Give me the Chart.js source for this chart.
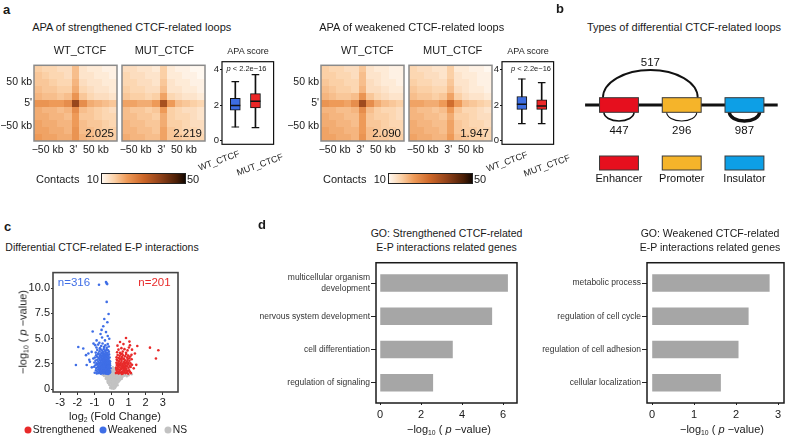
<!DOCTYPE html>
<html><head><meta charset="utf-8">
<script src="https://cdn.jsdelivr.net/npm/chart.js@4.4.1/dist/chart.umd.min.js"></script>
<style>
body{margin:0;width:789px;height:440px;background:#fff;position:relative;overflow:hidden;font-family:"Liberation Sans",Arial,sans-serif;color:#1a1a1a}
.t{position:absolute;white-space:nowrap;line-height:1}
canvas{position:absolute}
sub{font-size:0.62em;vertical-align:-0.3em;line-height:0}
.dot{position:absolute;width:7px;height:7px;border-radius:50%;transform:translate(-50%,-50%)}
.cbar{position:absolute;box-sizing:border-box;border:1px solid #222}
</style></head><body>
<script>
// ================= DATA =================
// panel a : aggregate peak analysis
const heatTicksY = ['50 kb', "5'", '\u221250 kb'];
const heatTicksX = ['\u221250 kb', "3'", '50 kb'];
const heatTickPosY = [2, 5, 8.3];
const heatTickPosX = [1.3, 4.7, 7.7];
const apaStrengthened = ['2.025', '2.219'];
const apaWeakened = ['2.090', '1.947'];
const contactStops = [[10,'#fff8f0'],[16,'#fbd0a6'],[22,'#ee9a58'],[30,'#cc6628'],[38,'#91421a'],[46,'#4a1e06'],[50,'#140802']];
const heatWTStrengthened = [
 [16,15,15,14,14,18,13,12,12,11,11],
 [17,16,15,15,14,18,13,13,12,12,11],
 [17,17,16,15,15,19,14,13,13,12,12],
 [18,17,17,16,16,20,15,14,13,13,12],
 [19,18,18,17,18,23,17,15,14,14,13],
 [23,23,22,22,24,37,24,20,19,18,17],
 [20,19,19,18,19,24,18,17,16,15,14],
 [20,20,19,19,18,22,17,17,16,15,15],
 [21,20,20,19,19,22,18,17,17,16,15],
 [21,21,20,20,19,23,18,18,17,16,16],
 [22,21,21,20,20,23,19,18,17,17,16]];
const heatMUTStrengthened = [
 [14,14,13,13,12,16,12,11,11,10,10],
 [15,14,14,13,13,16,12,12,11,11,10],
 [15,15,14,14,13,17,13,12,12,11,11],
 [16,15,15,14,14,18,13,13,12,12,11],
 [17,16,16,15,16,21,15,14,13,13,12],
 [21,21,20,20,22,35,22,18,17,16,15],
 [18,17,17,16,17,22,16,15,14,14,13],
 [18,18,17,17,16,20,16,15,15,14,13],
 [19,18,18,17,17,20,16,16,15,14,14],
 [19,19,18,18,17,21,17,16,15,15,14],
 [20,19,19,18,18,21,17,17,16,15,15]];
const heatWTWeakened = [
 [16,15,15,14,14,17,13,12,12,11,11],
 [16,16,15,15,14,18,13,13,12,11,11],
 [17,16,16,15,15,18,14,13,12,12,11],
 [18,17,16,16,15,19,14,14,13,12,12],
 [19,18,17,17,18,23,17,15,14,13,13],
 [23,22,22,21,24,36,24,20,18,17,16],
 [19,19,18,18,19,24,18,16,15,15,14],
 [20,19,19,18,18,22,17,16,16,15,14],
 [20,20,19,19,18,22,17,17,16,15,15],
 [21,20,20,19,19,22,18,17,16,16,15],
 [21,21,20,20,19,23,18,17,17,16,16]];
const heatMUTWeakened = [
 [15,14,14,13,13,16,12,12,11,11,10],
 [15,15,14,14,13,16,13,12,12,11,11],
 [16,15,15,14,14,17,13,13,12,11,11],
 [17,16,16,15,15,18,14,13,12,12,11],
 [18,17,17,16,17,21,16,14,13,13,12],
 [21,21,20,20,22,29,22,18,17,16,15],
 [19,18,18,17,18,22,17,15,15,14,13],
 [19,19,18,18,17,20,16,16,15,14,14],
 [20,19,19,18,18,21,17,16,15,15,14],
 [20,20,19,19,18,21,17,16,16,15,15],
 [21,20,20,19,19,22,18,17,16,16,15]];
// APA score box plots
const boxGroups = ['WT_CTCF', 'MUT_CTCF'];
const boxColors = ['#3d6de0', '#ec2626'];
const apaTicks = [0, 2, 4];
const strMin = [0.76, 0.72], strQ1 = [1.71, 1.84], strMed = [1.98, 2.22], strQ3 = [2.38, 2.65], strMax = [3.33, 3.73];
const wkMin = [0.95, 0.95], wkQ1 = [1.76, 1.76], wkMed = [2.05, 1.95], wkQ3 = [2.49, 2.30], wkMax = [3.48, 3.28];
// panel b : loop types
const loopElements = ['Enhancer', 'Promoter', 'Insulator'];
const loopElementColors = ['#e60f1e', '#f5b42a', '#0d9fe6'];
const loopFrom = ['Enhancer', 'Enhancer', 'Promoter', 'Insulator'];
const loopTo = ['Promoter', 'Enhancer', 'Promoter', 'Insulator'];
const loopCounts = [517, 447, 296, 987];
// panel c : volcano (log2 FC, -log10 p) flat pairs
const volcanoXTicks = [-3, -2, -1, 0, 1, 2, 3];
const volcanoYTicks = [0, 2.5, 5, 7.5, 10];
const volcanoYLabels = ['0', '2.5', '5.0', '7.5', '10.0'];
const volcanoWeakened = [
-0.73,10.33,-0.32,10.59,-0.25,10.39,-0.28,10.46,-0.28,8.63,-0.17,7.43,-0.42,6.94,-0.24,6.61,-0.48,6.22,-1.10,5.70,-0.58,5.86,-0.32,5.64,-0.87,4.82,-0.71,4.59,-0.38,4.82,-0.13,4.98,-1.94,4.17,-1.65,4.01,-1.35,3.52,-2.08,2.38,-1.49,3.36,-1.16,3.68,-1.06,3.03,-1.45,2.38,-1.26,2.70,-0.95,4.35,-0.22,5.25,-0.55,5.10,-1.30,2.90,-1.15,2.15,-1.05,4.50,-0.64,5.45,
-0.98,1.62,-0.91,1.85,-0.86,1.55,-0.82,1.74,-0.78,1.93,-0.74,1.58,-0.71,1.81,-0.68,1.67,-0.65,1.96,-0.62,1.52,-0.59,1.73,-0.56,1.88,-0.53,1.61,-0.51,1.79,-0.48,1.54,-0.46,1.97,-0.44,1.69,-0.41,1.83,-0.39,1.57,-0.37,1.74,-0.35,1.92,-0.33,1.63,-0.31,1.51,-0.29,1.86,-0.27,1.71,-0.25,1.59,-0.23,1.95,-0.21,1.78,-0.19,1.64,-0.17,1.53,-0.15,1.89,-0.13,1.72,-0.11,1.60,-0.09,1.83,-0.07,1.68,-0.62,1.84,-0.45,1.60,-0.30,1.99,-0.20,1.50,-0.38,1.90,
-1.02,2.21,-0.94,2.36,-0.89,2.08,-0.84,2.44,-0.80,2.17,-0.76,2.31,-0.72,2.05,-0.69,2.47,-0.66,2.25,-0.63,2.12,-0.60,2.39,-0.57,2.02,-0.54,2.28,-0.52,2.46,-0.49,2.15,-0.47,2.34,-0.45,2.07,-0.42,2.41,-0.40,2.22,-0.38,2.11,-0.36,2.49,-0.34,2.30,-0.32,2.04,-0.30,2.18,-0.28,2.38,-0.26,2.09,-0.24,2.27,-0.22,2.45,-0.20,2.13,-0.18,2.33,-0.16,2.01,-0.14,2.24,-0.12,2.42,-0.10,2.16,-0.08,2.35,-0.06,2.06,-0.55,2.20,-0.43,2.26,
-1.00,2.63,-0.93,2.82,-0.87,2.56,-0.83,2.91,-0.77,2.70,-0.73,2.52,-0.70,2.88,-0.66,2.61,-0.63,2.77,-0.60,2.98,-0.57,2.58,-0.54,2.84,-0.51,2.67,-0.48,2.95,-0.46,2.54,-0.43,2.74,-0.41,2.89,-0.38,2.60,-0.36,2.80,-0.33,2.53,-0.31,2.71,-0.29,2.93,-0.27,2.64,-0.25,2.86,-0.22,2.57,-0.20,2.76,-0.17,2.97,-0.15,2.62,-0.12,2.81,-0.10,2.55,-0.08,2.72,-0.35,2.99,
-0.97,3.12,-0.90,3.35,-0.84,3.20,-0.79,3.46,-0.74,3.06,-0.69,3.28,-0.65,3.41,-0.61,3.15,-0.58,3.33,-0.55,3.03,-0.52,3.24,-0.49,3.47,-0.46,3.11,-0.43,3.38,-0.40,3.21,-0.37,3.04,-0.34,3.30,-0.31,3.44,-0.28,3.17,-0.25,3.36,-0.22,3.08,-0.18,3.27,-0.14,3.43,-0.11,3.13,
-0.92,3.61,-0.83,3.88,-0.76,3.55,-0.70,3.74,-0.64,3.93,-0.59,3.58,-0.54,3.81,-0.50,3.66,-0.45,3.97,-0.41,3.52,-0.37,3.78,-0.33,3.64,-0.29,3.90,-0.24,3.57,-0.20,3.84,-0.15,3.69,
-0.88,4.12,-0.78,4.40,-0.68,4.05,-0.60,4.27,-0.52,4.51,-0.44,4.16,-0.36,4.33,-0.28,4.08,-0.22,4.45,-0.16,4.21];
const volcanoStrengthened = [
0.85,5.05,0.50,4.66,1.08,4.33,1.51,4.27,2.25,4.10,2.74,3.84,2.60,3.03,1.37,3.52,1.20,3.90,0.70,4.45,1.45,2.40,1.30,2.05,0.35,4.30,1.05,4.70,
0.26,1.58,0.30,1.82,0.34,1.65,0.38,1.93,0.42,1.54,0.46,1.76,0.50,1.88,0.54,1.61,0.58,1.97,0.62,1.70,0.66,1.53,0.70,1.85,0.74,1.67,0.78,1.79,0.82,1.56,0.86,1.91,0.90,1.63,0.94,1.74,0.98,1.52,1.03,1.86,1.08,1.69,1.14,1.58,0.28,1.99,0.44,1.71,0.60,1.50,0.76,1.95,0.92,1.82,0.40,1.60,
0.27,2.12,0.31,2.38,0.35,2.05,0.39,2.27,0.43,2.46,0.47,2.14,0.51,2.33,0.55,2.02,0.59,2.22,0.63,2.41,0.67,2.09,0.71,2.30,0.75,2.48,0.79,2.17,0.83,2.36,0.87,2.04,0.91,2.25,0.95,2.44,1.00,2.11,1.06,2.32,1.12,2.19,1.20,2.40,0.49,2.47,0.65,2.26,0.81,2.01,0.37,2.43,
0.29,2.61,0.34,2.84,0.39,2.55,0.44,2.74,0.49,2.93,0.54,2.60,0.59,2.79,0.64,2.52,0.69,2.97,0.74,2.67,0.79,2.86,0.84,2.57,0.89,2.73,0.94,2.91,0.99,2.63,1.05,2.80,1.11,2.54,1.18,2.95,0.57,2.99,0.31,2.92,0.72,2.58,0.96,2.50,
0.30,3.14,0.36,3.38,0.42,3.07,0.48,3.29,0.55,3.46,0.61,3.18,0.67,3.35,0.73,3.03,0.80,3.25,0.86,3.44,0.92,3.11,0.98,3.31,1.04,3.05,1.10,3.22,1.17,3.40,0.50,3.02,
0.33,3.65,0.41,3.90,0.50,3.58,0.58,4.05,0.66,3.72,0.76,3.95,0.85,3.60,0.94,3.83,1.02,4.12,0.62,3.52];
const volcanoNS = [
0.02,0.05,0.10,0.12,0.18,0.08,-0.04,0.18,0.06,0.25,0.14,0.22,0.22,0.15,0.25,0.27,-0.07,0.10,0.12,0.03,0.08,0.16,0.20,0.26,
-0.13,0.42,-0.08,0.55,-0.02,0.35,0.03,0.48,0.07,0.33,0.11,0.58,0.15,0.40,0.19,0.52,0.23,0.36,0.27,0.47,0.31,0.57,0.35,0.38,-0.05,0.31,0.01,0.60,0.09,0.45,0.17,0.31,0.25,0.59,0.33,0.50,
-0.23,0.72,-0.18,0.86,-0.13,0.64,-0.09,0.79,-0.04,0.68,0.00,0.88,0.04,0.62,0.08,0.75,0.12,0.84,0.16,0.66,0.20,0.78,0.24,0.89,0.28,0.63,0.32,0.74,0.36,0.85,0.40,0.69,0.44,0.80,0.48,0.88,-0.20,0.61,0.10,0.70,0.30,0.81,-0.01,0.76,
-0.33,1.02,-0.28,1.15,-0.24,0.93,-0.20,1.08,-0.16,1.19,-0.12,0.97,-0.08,1.11,-0.04,0.91,0.00,1.04,0.04,1.17,0.08,0.95,0.12,1.09,0.16,1.20,0.20,0.99,0.24,1.13,0.28,0.92,0.32,1.06,0.36,1.18,0.40,0.96,0.45,1.10,0.50,0.94,0.55,1.14,0.60,1.01,0.64,1.19,-0.30,1.19,0.14,0.90,
-0.44,1.31,-0.39,1.45,-0.34,1.25,-0.29,1.38,-0.25,1.49,-0.21,1.22,-0.17,1.35,-0.13,1.47,-0.09,1.28,-0.05,1.41,-0.01,1.23,0.03,1.36,0.07,1.48,0.11,1.27,0.15,1.40,0.19,1.21,0.23,1.33,0.28,1.46,0.33,1.26,0.38,1.39,0.43,1.50,0.48,1.24,0.54,1.37,0.60,1.29,0.67,1.44,0.74,1.32,0.82,1.41,0.90,1.27,1.00,1.38,1.18,1.47,-0.52,1.42,
-0.03,1.60,0.02,1.78,0.06,1.55,0.10,1.92,0.14,1.68,0.18,1.85,0.22,1.58,-0.01,2.05,0.08,2.15,0.16,2.02,0.12,1.72,0.04,1.95,0.20,1.99,0.05,1.66];
// panel d : GO enrichment
const goStrTerms = [['multicellular organism', 'development'], 'nervous system development', 'cell differentiation', 'regulation of signaling'];
const goStrValues = [6.22, 5.45, 3.53, 2.57];
const goStrTicks = [0, 2, 4, 6];
const goWkTerms = ['metabolic process', 'regulation of cell cycle', 'regulation of cell adhesion', 'cellular localization'];
const goWkValues = [2.79, 2.29, 2.05, 1.63];
const goWkTicks = [0, 1, 2, 3];

// ================= HELPERS =================
const FONT = '"Liberation Sans", Arial, sans-serif';
Chart.defaults.font.family = FONT;
Chart.defaults.color = '#1a1a1a';
function makeChart(left, top, w, h, cfg) {
  const c = document.createElement('canvas');
  c.width = w; c.height = h;
  c.style.left = left + 'px'; c.style.top = top + 'px';
  c.style.width = w + 'px'; c.style.height = h + 'px';
  document.body.appendChild(c);
  cfg.options = Object.assign({responsive: false, animation: false, devicePixelRatio: 1, events: []}, cfg.options || {});
  cfg.options.plugins = Object.assign({legend: {display: false}, tooltip: {enabled: false}}, cfg.options.plugins || {});
  return new Chart(c, cfg);
}
function T(html, x, y, o = {}) {
  const d = document.createElement('div');
  d.className = 't'; d.innerHTML = html;
  d.style.left = x + 'px'; d.style.top = y + 'px';
  d.style.fontSize = (o.size || 11) + 'px';
  if (o.bold) d.style.fontWeight = 'bold';
  if (o.color) d.style.color = o.color;
  const ax = o.anchor === 'left' ? '0' : o.anchor === 'right' ? '-100%' : '-50%';
  d.style.transform = `translate(${ax},-50%)` + (o.rot ? ` rotate(${o.rot}deg)` : '');
  document.body.appendChild(d);
}
function hex2rgb(h) { const n = parseInt(h.slice(1), 16); return [n >> 16 & 255, n >> 8 & 255, n & 255]; }
function contactColor(v) {
  const s = contactStops;
  if (v <= s[0][0]) return s[0][1];
  for (let i = 1; i < s.length; i++) {
    if (v <= s[i][0]) {
      const t = (v - s[i - 1][0]) / (s[i][0] - s[i - 1][0]);
      const a = hex2rgb(s[i - 1][1]), b = hex2rgb(s[i][1]);
      return 'rgb(' + a.map((x, k) => Math.round(x + (b[k] - x) * t)).join(',') + ')';
    }
  }
  return s[s.length - 1][1];
}
function framePlugin(color, width) {
  return {id: 'frame', afterDraw(chart) {
    const {ctx, chartArea: a} = chart;
    ctx.save(); ctx.strokeStyle = color; ctx.lineWidth = width;
    ctx.strokeRect(a.left, a.top, a.right - a.left, a.bottom - a.top);
    ctx.restore();
  }};
}
const fixedTicks = arr => (s => { s.ticks = arr.map(v => ({value: v})); });
const noGrid = {display: false, drawTicks: false};

// ================= PANEL a : heatmaps =================
function heatmap(left, top, matrix, score, showY) {
  const n = matrix.length;
  const yW = showY ? 40 : 20;
  makeChart(left - yW, top - 2, yW + 83 + 6, 2 + 82 + 18, {
    type: 'scatter', data: {datasets: []},
    options: {
      layout: {padding: {left: 0, top: 2, right: 6, bottom: 0}},
      scales: {
        x: {type: 'linear', min: -0.5, max: n - 0.5, grid: noGrid, border: {display: false},
            afterBuildTicks: fixedTicks(heatTickPosX),
            ticks: {callback: (v, i) => heatTicksX[i], padding: 3, maxRotation: 0, autoSkip: false, font: {size: 10.5}, color: '#1a1a1a'},
            afterFit: s => { s.height = 18; }},
        y: {type: 'linear', reverse: true, min: -0.5, max: n - 0.5, grid: noGrid, border: {display: false},
            afterBuildTicks: fixedTicks(heatTickPosY),
            ticks: {callback: (v, i) => showY ? heatTicksY[i] : '', padding: 2, autoSkip: false, font: {size: 10.5}, color: '#1a1a1a'},
            afterFit: s => { s.width = yW; }}
      }
    },
    plugins: [{id: 'heat',
      beforeDatasetsDraw(chart) {
        const {ctx, scales: {x, y}} = chart;
        ctx.save();
        for (let r = 0; r < n; r++) for (let c = 0; c < n; c++) {
          const x0 = Math.round(x.getPixelForValue(c - 0.5)), x1 = Math.round(x.getPixelForValue(c + 0.5));
          const y0 = Math.round(y.getPixelForValue(r - 0.5)), y1 = Math.round(y.getPixelForValue(r + 0.5));
          ctx.fillStyle = contactColor(matrix[r][c]);
          ctx.fillRect(x0, y0, x1 - x0, y1 - y0);
        }
        ctx.restore();
      },
      afterDraw(chart) {
        const {ctx, chartArea: a} = chart;
        ctx.save(); ctx.strokeStyle = '#8a8a8a'; ctx.lineWidth = 1.5;
        ctx.strokeRect(a.left, a.top, a.right - a.left, a.bottom - a.top);
        ctx.fillStyle = '#111'; ctx.font = '11.5px ' + FONT; ctx.textAlign = 'right'; ctx.textBaseline = 'alphabetic';
        ctx.fillText(score, a.right - 3, a.bottom - 4);
        ctx.restore();
      }}]
  });
}
heatmap(34, 59, heatWTStrengthened, apaStrengthened[0], true);
heatmap(122, 59, heatMUTStrengthened, apaStrengthened[1], false);
heatmap(321, 59, heatWTWeakened, apaWeakened[0], true);
heatmap(409, 59, heatMUTWeakened, apaWeakened[1], false);

// colour bars
function colorBar(left, top) {
  const d = document.createElement('div'); d.className = 'cbar';
  d.style.left = left + 'px'; d.style.top = top + 'px'; d.style.width = '85px'; d.style.height = '11px';
  const lo = contactStops[0][0], hi = contactStops[contactStops.length - 1][0];
  d.style.background = 'linear-gradient(to right,' + contactStops.map(s => s[1] + ' ' + ((s[0] - lo) / (hi - lo) * 100) + '%').join(',') + ')';
  document.body.appendChild(d);
  T('Contacts', left - 65, top + 5.5, {anchor: 'left', size: 11});
  T(String(lo), left - 2, top + 5.5, {anchor: 'right', size: 11});
  T(String(hi), left + 86, top + 5.5, {anchor: 'left', size: 11});
}
colorBar(101, 173);
colorBar(388, 173);

// box plots
function boxplot(left, xmin, xmax, mn, q1, med, q3, mx) {
  const pts = a => a.map((v, i) => ({x: i + 1, y: v}));
  makeChart(left - 22, 55, 22 + 52 + 6, 96, {
    type: 'bar',
    data: {datasets: [
      {type: 'line', data: pts(med), showLine: false, pointStyle: 'line', pointRadius: 5, pointBorderColor: '#111', pointBorderWidth: 1.4, order: 0},
      {type: 'line', data: pts(mx), showLine: false, pointStyle: 'line', pointRadius: 3.8, pointBorderColor: '#111', pointBorderWidth: 1.2, order: 1},
      {type: 'line', data: pts(mn), showLine: false, pointStyle: 'line', pointRadius: 3.8, pointBorderColor: '#111', pointBorderWidth: 1.2, order: 1},
      {type: 'bar', data: q1.map((v, i) => ({x: i + 1, y: [v, q3[i]]})), backgroundColor: boxColors, borderColor: '#111', borderWidth: 1, borderSkipped: false, barThickness: 10, grouped: false, order: 2},
      {type: 'bar', data: mn.map((v, i) => ({x: i + 1, y: [v, mx[i]]})), backgroundColor: '#111', barThickness: 1, grouped: false, order: 3}
    ]},
    options: {
      layout: {padding: {top: 6, right: 6, bottom: 4}},
      scales: {
        x: {type: 'linear', min: xmin, max: xmax, display: false, offset: false},
        y: {type: 'linear', min: -0.22, max: 4.46, border: {display: false},
            grid: {display: true, drawOnChartArea: false, tickLength: 2, color: '#111'},
            afterBuildTicks: fixedTicks(apaTicks),
            ticks: {padding: 1, font: {size: 9.5}, color: '#1a1a1a'},
            afterFit: s => { s.width = 22; }}
      }
    },
    plugins: [framePlugin('#111', 1.2)]
  });
}
boxplot(222, 0.34, 2.9, strMin, strQ1, strMed, strQ3, strMax);
boxplot(502, 0.0, 2.6, wkMin, wkQ1, wkMed, wkQ3, wkMax);

// panel a texts
T('a', 3, 9, {bold: true, size: 13, anchor: 'left'});
T('APA of strengthened CTCF-related loops', 131.7, 26.5, {size: 11});
T(boxGroups[0], 80, 50, {size: 11}); T(boxGroups[1], 164.3, 50, {size: 11});
T('APA score', 248, 51, {size: 9});
T('<i>p</i> &lt; 2.2e\u221216', 246.5, 69, {size: 7.5});
T(boxGroups[0], 219, 161, {size: 9, rot: -20}); T(boxGroups[1], 260, 165, {size: 9, rot: -20});
T('APA of weakened CTCF-related loops', 411.7, 26.5, {size: 11});
T(boxGroups[0], 367.3, 50, {size: 11}); T(boxGroups[1], 452.7, 50, {size: 11});
T('APA score', 528, 51, {size: 9});
T('<i>p</i> &lt; 2.2e\u221216', 531, 69, {size: 7.5});
T(boxGroups[0], 506.5, 162, {size: 9, rot: -20}); T(boxGroups[1], 546.5, 166, {size: 9, rot: -20});

// ================= PANEL b =================
T('b', 556, 8, {bold: true, size: 13, anchor: 'left'});
T('Types of differential CTCF-related loops', 684, 26.5, {size: 11});
makeChart(560, 50, 229, 140, {
  type: 'scatter', data: {datasets: []},
  options: {layout: {padding: 0}, scales: {x: {type: 'linear', min: 0.06, max: 3.71, display: false}, y: {type: 'linear', min: -8.5, max: 5.5, display: false}}},
  plugins: [{id: 'loops', afterDraw(chart) {
    const {ctx, scales: {x, y}} = chart;
    const pos = name => loopElements.indexOf(name) + 1;
    ctx.save();
    ctx.strokeStyle = '#111'; ctx.lineWidth = 3;
    ctx.beginPath(); ctx.moveTo(x.getPixelForValue(0.46), y.getPixelForValue(0)); ctx.lineTo(x.getPixelForValue(3.53), y.getPixelForValue(0)); ctx.stroke();
    loopCounts.forEach((n, i) => {
      const a = pos(loopFrom[i]), b = pos(loopTo[i]);
      ctx.strokeStyle = '#111'; ctx.lineWidth = n / 280;
      ctx.beginPath();
      ctx.fillStyle = '#111'; ctx.font = '11.5px ' + FONT; ctx.textAlign = 'center'; ctx.textBaseline = 'middle';
      if (a !== b) {
        const cx = x.getPixelForValue((a + b) / 2), rx = x.getPixelForValue(b + 0.255) - cx;
        const by = y.getPixelForValue(0.73), ry = by - y.getPixelForValue(3.5);
        ctx.ellipse(cx, by, rx, ry, 0, Math.PI, 2 * Math.PI);
        ctx.stroke();
        ctx.fillText(String(n), cx, y.getPixelForValue(4.25));
      } else {
        const cx = x.getPixelForValue(a), rx = x.getPixelForValue(a + 0.24) - cx;
        const by = y.getPixelForValue(-0.73), ry = y.getPixelForValue(-1.6) - by;
        ctx.ellipse(cx, by, rx, ry, 0, 0, Math.PI);
        ctx.stroke();
        ctx.fillText(String(n), cx, y.getPixelForValue(-2.6));
      }
    });
    loopElements.forEach((name, i) => {
      const p = i + 1;
      const x0 = x.getPixelForValue(p - 0.31), x1 = x.getPixelForValue(p + 0.31);
      [[0.73, -0.73], [-5.1, -6.5]].forEach(([t, bt]) => {
        const y0 = y.getPixelForValue(t), y1 = y.getPixelForValue(bt);
        ctx.fillStyle = loopElementColors[i]; ctx.fillRect(x0, y0, x1 - x0, y1 - y0);
        ctx.strokeStyle = '#3a3a3a'; ctx.lineWidth = 1; ctx.strokeRect(x0, y0, x1 - x0, y1 - y0);
      });
      ctx.fillStyle = '#111'; ctx.font = '11px ' + FONT; ctx.textAlign = 'center'; ctx.textBaseline = 'middle';
      ctx.fillText(name, x.getPixelForValue(p), y.getPixelForValue(-7.4));
    });
    ctx.restore();
  }}]
});

// ================= PANEL c : volcano =================
T('c', 4, 225.5, {bold: true, size: 13, anchor: 'left'});
T('Differential CTCF-related E-P interactions', 102, 246.7, {size: 10.5});
const toPts = a => { const r = []; for (let i = 0; i < a.length; i += 2) r.push({x: a[i], y: a[i + 1]}); return r; };
makeChart(25, 265, 160, 145, {
  type: 'scatter',
  data: {datasets: [
    {data: toPts(volcanoStrengthened), backgroundColor: '#e82a2a', pointRadius: 1.3, pointBorderWidth: 0, order: 0},
    {data: toPts(volcanoWeakened), backgroundColor: '#3f6ee6', pointRadius: 1.3, pointBorderWidth: 0, order: 1},
    {data: toPts(volcanoNS), backgroundColor: '#c2c2c2', pointRadius: 1.3, pointBorderWidth: 0, order: 2}
  ]},
  options: {
    layout: {padding: {top: 6, right: 7}},
    scales: {
      x: {type: 'linear', min: -3.42, max: 3.89, border: {display: false},
          grid: {display: true, drawOnChartArea: false, tickLength: 3, color: '#333'},
          afterBuildTicks: fixedTicks(volcanoXTicks),
          ticks: {padding: 1, font: {size: 11}, color: '#1a1a1a', maxRotation: 0},
          afterFit: s => { s.height = 18; }},
      y: {type: 'linear', min: -0.29, max: 11.53, border: {display: false},
          grid: {display: true, drawOnChartArea: false, tickLength: 2, color: '#333'},
          afterBuildTicks: fixedTicks(volcanoYTicks),
          ticks: {callback: (v, i) => volcanoYLabels[i], padding: 1, font: {size: 11}, color: '#1a1a1a'},
          afterFit: s => { s.width = 28; }}
    }
  },
  plugins: [framePlugin('#444', 1.6)]
});
T('n=316', 74, 283, {size: 11.5, color: '#3f6ee6'});
T('n=201', 154.5, 283, {size: 11.5, color: '#e82a2a'});
T('\u2212log<sub>10</sub> ( <i>p</i> \u2212value)', 23, 332, {size: 11, rot: -90});
T('log<sub>2</sub> (Fold Change)', 115, 415.5, {size: 11});
[['Strengthened', '#e82a2a', 28.3], ['Weakened', '#3f6ee6', 103.3], ['NS', '#c2c2c2', 168.3]].forEach(([lab, col, x]) => {
  const d = document.createElement('div'); d.className = 'dot'; d.style.background = col; d.style.left = x + 'px'; d.style.top = '430px';
  document.body.appendChild(d);
  T(lab, x + 4.5, 430, {size: 10.3, anchor: 'left'});
});

// ================= PANEL d : GO =================
T('d', 258, 223.5, {bold: true, size: 13, anchor: 'left'});
function goChart(left, w, yW, padR, terms, values, xmin, xmax, ticks) {
  makeChart(left, 256, w, 168, {
    type: 'bar',
    data: {datasets: [{data: values.map((v, i) => ({x: v, y: i + 1})), backgroundColor: '#a6a6a6', barThickness: 17}]},
    options: {
      indexAxis: 'y',
      layout: {padding: {top: 6, right: padR}},
      scales: {
        x: {type: 'linear', min: xmin, max: xmax, border: {display: false},
            grid: {display: true, drawOnChartArea: false, tickLength: 2, color: '#222', offset: false},
            afterBuildTicks: fixedTicks(ticks),
            ticks: {padding: 3, font: {size: 11}, color: '#1a1a1a', maxRotation: 0},
            afterFit: s => { s.height = 21; }},
        y: {type: 'linear', reverse: true, min: 0.39, max: 4.61, offset: false, border: {display: false},
            grid: {display: true, drawOnChartArea: false, tickLength: 5, color: '#222', offset: false},
            afterBuildTicks: fixedTicks(terms.map((t, i) => i + 1)),
            ticks: {callback: (v, i) => terms[i], padding: 1, font: {size: 8.5, lineHeight: 1.35}, color: '#333', autoSkip: false},
            afterFit: s => { s.width = yW; }}
      }
    },
    plugins: [framePlugin('#1a1a1a', 1.5)]
  });
}
goChart(240, 285, 136, 8, goStrTerms, goStrValues, -0.2, 6.68, goStrTicks);
goChart(520, 269, 127, 5, goWkTerms, goWkValues, -0.12, 3.14, goWkTicks);
T('GO: Strengthened CTCF-related', 446.5, 233, {size: 10.5});
T('E-P interactions related genes', 446.5, 247, {size: 10.5});
T('GO: Weakened CTCF-related', 710, 233, {size: 10.5});
T('E-P interactions related genes', 710, 247, {size: 10.5});
T('\u2212log<sub>10</sub> ( <i>p</i> \u2212value)', 449, 429, {size: 11});
T('\u2212log<sub>10</sub> ( <i>p</i> \u2212value)', 722, 429, {size: 11});
</script>
</body></html>
